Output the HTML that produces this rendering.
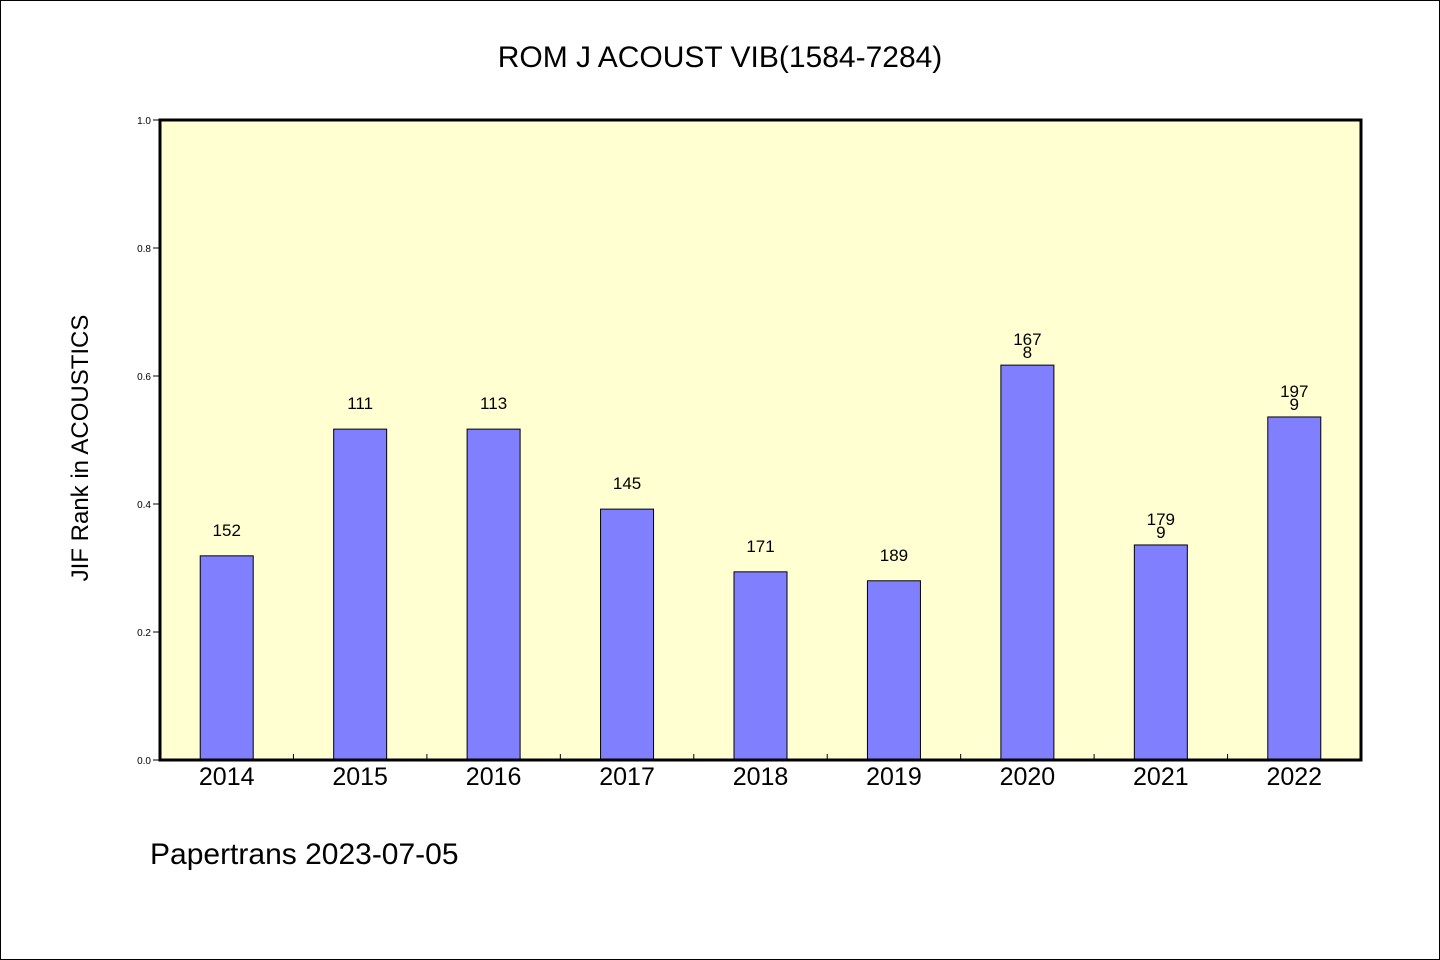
<!DOCTYPE html>
<html><head><meta charset="utf-8"><style>
body{margin:0;background:#fff}
svg{display:block}
text{font-family:"WenQuanYi Zen Hei","Liberation Sans",sans-serif;fill:#000}
</style></head><body>
<svg id="c" width="1440" height="960">
<rect x="0.5" y="0.5" width="1439" height="959" fill="#fff" stroke="#000"/>
<text x="720" y="67" font-size="30" text-anchor="middle">ROM J ACOUST VIB(1584-7284)</text>
<rect x="160" y="120" width="1201" height="640" fill="#ffffd2"/>
<g id="bars"></g>
<rect x="160" y="120" width="1201" height="640" fill="none" stroke="#000" stroke-width="3"/>
<text transform="translate(88,448) rotate(-90)" font-size="24" text-anchor="middle">JIF Rank in ACOUSTICS</text>
<text x="150" y="864" font-size="30">Papertrans 2023-07-05</text>
</svg>
<script>
const categories=["2014","2015","2016","2017","2018","2019","2020","2021","2022"];
const values=[0.319,0.517,0.517,0.392,0.294,0.280,0.617,0.336,0.536];
const labels=[["152"],["111"],["113"],["145"],["171"],["189"],["167","8"],["179","9"],["197","9"]];
const yTicks=[0,0.2,0.4,0.6,0.8,1.0];
const x0=160,x1=1361,y0=760,y1=120;
const bw=(x1-x0)/categories.length;
const X=i=>x0+bw*(i+0.5);
const Y=v=>y0-(v/1)*(y0-y1);
const svg=document.getElementById('c');const g=document.getElementById('bars');
const NS="http://www.w3.org/2000/svg";
function mk(t,a,p){const e=document.createElementNS(NS,t);for(const k in a)e.setAttribute(k,a[k]);(p||svg).appendChild(e);return e;}
yTicks.forEach(v=>{
const l=mk('line',{x1:153,x2:160,y1:Y(v),y2:Y(v),stroke:'#000','stroke-width':1});


const t=mk('text',{x:151,y:Y(v)+4,'font-size':10,'text-anchor':'end'});


t.textContent=v.toFixed(1);
});
for(let i=1;i<categories.length;i++){
const l=mk('line',{x1:x0+bw*i,x2:x0+bw*i,y1:y0,y2:y0-6,stroke:'#000','stroke-width':1});


}
categories.forEach((c,i)=>{
const r=mk('rect',{x:X(i)-26.5,y:Y(values[i]),width:53,height:y0-Y(values[i]),fill:'#8080ff',stroke:'#000','stroke-width':1},g);


const lab=labels[i];
lab.forEach((s,j)=>{
const t=mk('text',{x:X(i),y:Y(values[i])-(lab.length>1?(lab.length-1-j)*13+7:20),'font-size':17,'text-anchor':'middle'});


t.textContent=s;
});
const xt=mk('text',{x:X(i),y:785,'font-size':25,'text-anchor':'middle'});


xt.textContent=c;
});
</script>
</body></html>
